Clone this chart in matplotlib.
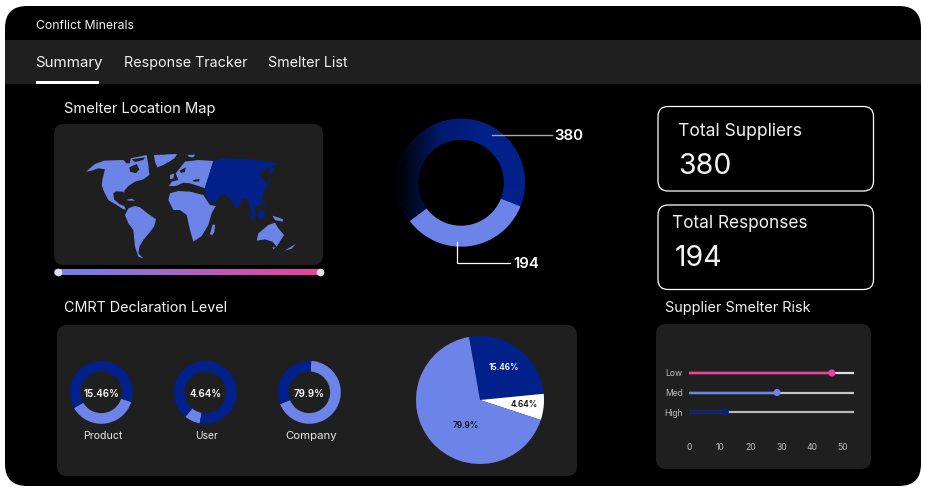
import numpy as np
import matplotlib
matplotlib.use("Agg")
import matplotlib.pyplot as plt
from matplotlib.patches import FancyBboxPatch, Polygon
from matplotlib.colors import LinearSegmentedColormap

plt.rcParams['font.family'] = ['Inter', 'DejaVu Sans']

W, H = 926, 491
NAVY, LIGHT, PINK = '#02208a', '#6c84e8', '#ee3f9c'
CARD, WHITE = '#1f1f1f', '#ffffff'

# ---------- data ----------
tabs = ['Summary', 'Response Tracker', 'Smelter List']
total_labels = ['Total Suppliers', 'Total Responses']
total_values = [380, 194]
cmrt_names = ['Product', 'User', 'Company']
cmrt_labels = ['15.46%', '4.64%', '79.9%']
donut_light_shares = [36.7, 8.0, 67.9]
donut_light_starts = [210, 231, 202]
pie_shares = [26.2, 6.6, 67.2]
risk_levels = ['Low', 'Med', 'High']
risk_values = [46.4, 28.6, 11.8]
risk_ticks = [0, 10, 20, 30, 40, 50]

# map outlines (west and east halves)
north_america = [(18,65),(45,42),(72,32),(130,30),(140,40),(150,40),(152,25),(200,15),(205,45),(208,75),(190,88),(165,95),(145,108),(133,122),(133,130),(130,125),(108,124),(100,130),(102,148),(118,162),(132,168),(138,178),(130,178),(110,165),(85,150),(72,125),(65,105),(68,85),(75,58),(55,55),(35,62)]
hudson_bay = [(148,52),(170,42),(178,58),(168,70),(150,65)]
arctic_gap = [(155,28),(195,22),(190,30),(165,36)]
greenland = [(222,15),(292,13),(272,32),(250,45),(232,52),(225,35)]
south_america = [(135,195),(145,175),(165,168),(180,172),(205,192),(228,208),(222,230),(205,252),(190,270),(178,290),(175,310),(190,325),(175,320),(165,290),(160,240),(145,220)]
cuba = [(138,150),(155,146),(165,152),(150,152)]
west_light = [north_america, greenland, south_america, cuba]
west_gaps = [hudson_bay, arctic_gap]

africa = [(10,150),(15,130),(40,123),(75,125),(115,135),(135,165),(152,168),(140,190),(130,225),(110,258),(85,275),(75,240),(65,195),(45,180),(25,180)]
europe = [(12,108),(20,95),(40,90),(32,70),(60,35),(100,30),(145,33),(120,115),(100,108),(75,100),(55,98),(40,105),(30,108)]
uk = [(15,75),(28,70),(25,85),(15,88)]
iceland = [(0,14),(36,12),(28,25),(10,36),(0,32)]
svalbard = [(68,15),(90,14),(85,22),(72,21)]
madagascar = [(135,252),(143,223),(150,225),(148,245),(142,256)]
australia = [(275,272),(280,250),(310,225),(330,218),(340,235),(357,255),(335,290),(322,275),(300,268)]
tasmania = [(322,292),(332,292),(325,298)]
new_zealand = [(358,302),(392,282),(380,296)]
new_guinea = [(322,197),(355,208),(352,215),(330,210)]
baltic_gap = [(44,62),(62,52),(60,66),(48,69)]
black_sea_gap = [(84,90),(103,87),(103,94),(86,95)]
asia = [(145,33),(175,25),(260,28),(345,40),(322,48),(328,62),(315,75),(312,50),(300,60),(280,70),(305,100),(295,130),(285,170),(268,170),(270,200),(262,205),(250,150),(235,145),(215,178),(195,145),(170,130),(165,140),(150,158),(128,150),(118,118)]
sumatra = [(248,185),(272,215),(262,212)]
borneo = [(275,195),(290,178),(302,195),(285,212)]
philippines = [(295,150),(308,172),(298,168)]
japan = [(325,75),(310,105),(295,112),(305,100)]
east_light = [africa, europe, uk, iceland, svalbard, madagascar, australia, tasmania, new_zealand, new_guinea]
east_navy = [asia, sumatra, borneo, philippines, japan]
east_gaps = [baltic_gap, black_sea_gap]

# ---------- canvas ----------
fig = plt.figure(figsize=(W/100, H/100), dpi=100, facecolor='white')
bg = fig.add_axes([0, 0, 1, 1])
bg.set_xlim(0, W); bg.set_ylim(H, 0); bg.axis('off')

def card(x0, y0, x1, y1, r, fc, ec='none', lw=0, z=1):
    p = FancyBboxPatch((x0, y0), x1-x0, y1-y0, boxstyle=f'round,pad=0,rounding_size={r}',
                       fc=fc, ec=ec, lw=lw, zorder=z)
    bg.add_patch(p)
    return p

card(5, 6, 921, 486, 22, '#000000')
bg.fill_between([5, 921], 40, 84, color=CARD, lw=0, zorder=1.5)
bg.fill_between([36, 99], 81, 84, color=WHITE, lw=0, zorder=2)

def txt(x, y, s, size, color='#f2f2f2', ha='left', weight='normal'):
    bg.text(x, y, s, fontsize=size, color=color, ha=ha, va='center', weight=weight, zorder=10)

txt(36.5, 25.5, 'Conflict Minerals', 8.8)
for x, s, fs in zip([35, 124, 268], tabs, [10.9, 10.3, 10.3]):
    txt(x, 63, s, fs)
txt(64, 109, 'Smelter Location Map', 10.6)
txt(64, 308, 'CMRT Declaration Level', 10.3)
txt(665, 308, 'Supplier Smelter Risk', 10.4)

# cards
card(54, 124, 323, 265, 10, CARD)
card(57, 325, 577, 476, 10, CARD)
card(656, 324, 871, 469, 10, CARD)

# map
def place(shape, x0, y0):
    return [(x0 + x/3, y0 + y/3) for x, y in shape]
for shape in west_light:
    bg.add_patch(Polygon(place(shape, 80, 150), fc=LIGHT, ec='none', zorder=3))
for shape in west_gaps:
    bg.add_patch(Polygon(place(shape, 80, 150), fc=CARD, ec='none', zorder=3.2))
for shape in east_light:
    bg.add_patch(Polygon(place(shape, 165, 150), fc=LIGHT, ec='none', zorder=3))
for shape in east_gaps:
    bg.add_patch(Polygon(place(shape, 165, 150), fc=CARD, ec='none', zorder=3.2))
for shape in east_navy:
    bg.add_patch(Polygon(place(shape, 165, 150), fc=NAVY, ec='none', zorder=3.5))

# gradient slider
cm_bar = LinearSegmentedColormap.from_list('bar', [LIGHT, PINK])
im = bg.imshow(np.linspace(0, 1, 256)[None, :], extent=(54, 324, 275.5, 269), aspect='auto',
               cmap=cm_bar, zorder=3)
im.set_clip_path(card(54, 269, 324, 275.5, 3, 'none'))
bg.set_xlim(0, W); bg.set_ylim(H, 0)
bg.scatter([57.5, 320], [272, 272], s=30, c='#e2e2e2', lw=0, zorder=4)

# KPI boxes
card(658, 106.5, 873.5, 191, 10, 'none', WHITE, 0.9)
card(658, 205, 873.5, 289.5, 10, 'none', WHITE, 0.9)
txt(678.5, 131.5, total_labels[0], 12.6)
txt(678.5, 166, str(total_values[0]), 20.5)
txt(671.5, 223, total_labels[1], 12.4)
txt(674.5, 258.5, str(total_values[1]), 20.5)

def pie_axes(cx, cy, r):
    a = fig.add_axes([(cx-r)/W, 1-(cy+r)/H, 2*r/W, 2*r/H])
    a.patch.set_alpha(0)
    return a

def finish(a):
    a.set_xlim(-1, 1); a.set_ylim(-1, 1); a.set_aspect('equal'); a.axis('off')

# main donut
a = pie_axes(461, 182.7, 64)
w, _ = a.pie(total_values, colors=[NAVY, LIGHT], startangle=-21.6, radius=1,
             wedgeprops=dict(width=21/64, lw=0))
cm_d = LinearSegmentedColormap.from_list('d', ['#000000', '#011a6e', NAVY])
g = a.imshow(np.clip(np.linspace(0, 1.45, 256), 0, 1)[None, :], extent=(-1, 1, -1, 1),
             aspect='auto', cmap=cm_d, zorder=3)
g.set_clip_path(w[0])
finish(a)
a.plot([492, 552], [134.5, 134.5], color='#a8a8a8', lw=1, transform=bg.transData, clip_on=False, zorder=5)
a.plot([456.5, 456.5, 510], [242, 263, 263], color=WHITE, lw=0.9, transform=bg.transData, clip_on=False, zorder=5)
txt(554, 135.5, str(total_values[0]), 10.8, WHITE, weight='semibold')
txt(513, 263.5, str(total_values[1]), 10.8, WHITE, weight='semibold')

# small donuts
centres = [(101.3, 392.3), (205.3, 392.3), (309.3, 392.3)]
for (cx, cy), share, st, lab, name, fs in zip(centres, donut_light_shares, donut_light_starts,
                                              cmrt_labels, cmrt_names, [7.6, 7.4, 8.2]):
    a = pie_axes(cx, cy, 31.5)
    a.pie([share, 100-share], colors=[LIGHT, NAVY], startangle=st, radius=1,
          wedgeprops=dict(width=10.7/31.5, lw=0))
    finish(a)
    txt(cx, cy+1.5, lab, 7, WHITE, ha='center', weight='semibold')
    txt(cx+1.5, cy+44, name, fs, '#e8e8e8', ha='center')

# big pie
a = pie_axes(480, 400, 64)
a.pie(pie_shares, colors=[NAVY, WHITE, LIGHT], startangle=99.9, counterclock=False, radius=1,
      wedgeprops=dict(lw=0))
finish(a)
for (x, y), s, c in zip([(503.5, 367.5), (524, 404.5), (465.5, 425.5)], cmrt_labels, [WHITE, '#111111', '#111111']):
    a.text(x, y, s, fontsize=6, color=c, ha='center', va='center', weight='semibold', transform=bg.transData)

# risk sliders
r = fig.add_axes([689/W, 1-431/H, 165/W, (431-363)/H])
r.patch.set_alpha(0)
ypos = np.arange(len(risk_levels))
track = ['#e0e0e0', '#c4c4c4', '#b8b8b8']
fill = [PINK, LIGHT, NAVY]
r.hlines(ypos, 0, 53.6, colors=track, lw=1.6, zorder=1)
r.hlines(ypos, 0, risk_values, colors=fill, lw=1.7, zorder=2)
r.scatter(risk_values, ypos, s=26, c=fill, lw=0, zorder=3, clip_on=False)
r.set_xlim(0, 53.6)
r.set_ylim((431-373)/19.5, (363-373)/19.5)
r.set_yticks(ypos, risk_levels)
r.set_xticks(risk_ticks, [str(v) for v in risk_ticks])
r.tick_params(length=0, labelsize=6.2, labelcolor='#bdbdbd')
r.tick_params(axis='x', pad=9)
r.tick_params(axis='y', pad=4.5)
for s in r.spines.values():
    s.set_visible(False)

fig.savefig('out.png', dpi=100, facecolor='white')
